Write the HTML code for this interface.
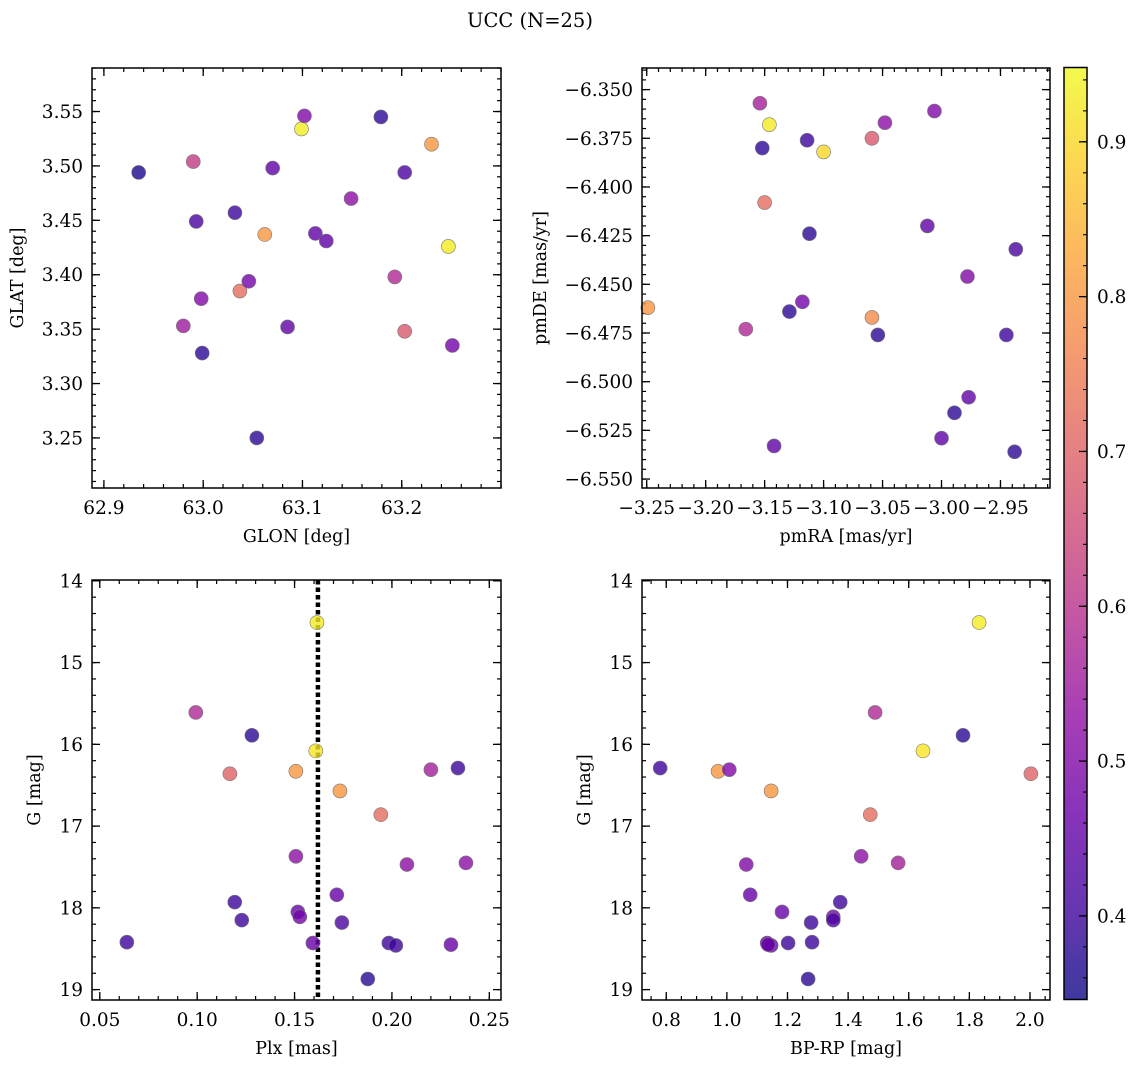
<!DOCTYPE html>
<html><head><meta charset="utf-8">
<style>
html,body{margin:0;padding:0;background:#fff;}
svg{display:block;font-family:"DejaVu Serif","Liberation Serif",serif;}
</style></head>
<body>
<svg id="fig" width="1136" height="1067" viewBox="0 0 1136 1067">
<defs><linearGradient id="cbgrad" x1="0" y1="1" x2="0" y2="0"></linearGradient></defs>
<text x="530" y="27" text-anchor="middle" font-size="19.5">UCC (N=25)</text>
</svg>
<script>
// ---- data ----
const glon = [62.935,62.990,62.993,63.032,62.998,62.980,62.999,63.037,63.046,63.054,63.062,63.070,63.085,63.099,63.102,63.113,63.124,63.149,63.179,63.193,63.203,63.203,63.230,63.247,63.251];
const glat = [3.494,3.504,3.449,3.457,3.378,3.353,3.328,3.385,3.394,3.250,3.437,3.498,3.352,3.534,3.546,3.438,3.431,3.470,3.545,3.398,3.348,3.494,3.520,3.426,3.335];
const probTL = [0.36,0.62,0.42,0.40,0.50,0.55,0.38,0.72,0.48,0.38,0.80,0.45,0.45,0.93,0.50,0.45,0.45,0.52,0.38,0.58,0.68,0.42,0.80,0.93,0.48];

const pmra = [-3.154,-3.146,-3.152,-3.114,-3.100,-3.059,-3.048,-3.006,-3.150,-3.112,-3.012,-2.937,-2.978,-3.249,-3.166,-3.118,-3.129,-3.059,-3.054,-2.945,-2.977,-2.989,-3.000,-3.142,-2.938];
const pmde = [-6.357,-6.368,-6.380,-6.376,-6.382,-6.375,-6.367,-6.361,-6.408,-6.424,-6.420,-6.432,-6.446,-6.462,-6.473,-6.459,-6.464,-6.467,-6.476,-6.476,-6.508,-6.516,-6.529,-6.533,-6.536];
const probTR = [0.56,0.93,0.38,0.40,0.90,0.68,0.52,0.50,0.72,0.38,0.45,0.42,0.50,0.80,0.58,0.48,0.38,0.78,0.38,0.40,0.45,0.38,0.45,0.45,0.38];

const plx = [0.1615,0.0993,0.1281,0.1609,0.1168,0.1507,0.1733,0.2200,0.2339,0.1943,0.1507,0.2077,0.2380,0.1717,0.1193,0.1517,0.1527,0.1229,0.1743,0.0639,0.1594,0.1984,0.2020,0.2303,0.1876];
const gBL = [14.51,15.61,15.89,16.08,16.36,16.33,16.57,16.31,16.29,16.86,17.37,17.47,17.45,17.84,17.93,18.05,18.11,18.15,18.18,18.42,18.43,18.43,18.46,18.45,18.87];
const probBL = [0.93,0.58,0.38,0.92,0.70,0.80,0.80,0.56,0.40,0.72,0.52,0.52,0.52,0.46,0.40,0.46,0.48,0.40,0.42,0.40,0.46,0.40,0.40,0.46,0.38];
const plxMedian = [0.162];

const bprp = [1.832,1.489,1.779,1.647,2.003,0.971,1.008,1.146,0.780,1.473,1.064,1.443,1.565,1.077,1.374,1.182,1.278,1.351,1.351,1.133,1.146,1.202,1.281,1.268,1.136];
const gBR = [14.51,15.61,15.89,16.08,16.36,16.33,16.31,16.57,16.29,16.86,17.47,17.37,17.45,17.84,17.93,18.05,18.18,18.11,18.15,18.43,18.46,18.43,18.42,18.87,18.45];
const probBR = [0.93,0.58,0.38,0.92,0.70,0.80,0.50,0.80,0.40,0.72,0.50,0.52,0.56,0.46,0.40,0.46,0.40,0.48,0.42,0.46,0.46,0.40,0.40,0.38,0.46];

const cbTicks = [0.4,0.5,0.6,0.7,0.8,0.9];
const cbRange = [0.346,0.948];

// ---- helpers ----
const NS="http://www.w3.org/2000/svg";
const svg=document.getElementById('fig');
function mk(tag,attrs,parent){const e=document.createElementNS(NS,tag);for(const k in attrs)e.setAttribute(k,attrs[k]);(parent||svg).appendChild(e);return e;}
const stops=[[0,[13,8,135]],[0.1,[65,4,157]],[0.2,[106,0,168]],[0.3,[143,13,164]],[0.4,[177,42,144]],[0.5,[204,71,120]],[0.6,[225,100,98]],[0.7,[242,132,75]],[0.8,[252,166,54]],[0.9,[252,206,37]],[1,[240,249,33]]];
function plasma(t){t=Math.max(0,Math.min(1,t));for(let i=1;i<stops.length;i++){if(t<=stops[i][0]){const a=stops[i-1],b=stops[i];const f=(t-a[0])/(b[0]-a[0]);const c=a[1].map((v,j)=>Math.round(v+(b[1][j]-v)*f));return `rgb(${c[0]},${c[1]},${c[2]})`;}}return 'rgb(240,249,33)';}
function cnorm(v){return (v-cbRange[0])/(cbRange[1]-cbRange[0]);}

function panel(cfg){
  const g=mk('g',{});
  
  
  const [L,T,R,B]=cfg.box;
  const sx=v=>L+(v-cfg.xd[0])/(cfg.xd[1]-cfg.xd[0])*(R-L);
  const sy=cfg.yinv? v=>T+(v-cfg.yd[0])/(cfg.yd[1]-cfg.yd[0])*(B-T) : v=>B-(v-cfg.yd[0])/(cfg.yd[1]-cfg.yd[0])*(B-T);
  const eps=1e-9;
  for(let v=Math.ceil(cfg.xd[0]/cfg.xminor-eps)*cfg.xminor; v<=cfg.xd[1]+eps; v+=cfg.xminor){const x=sx(v);
    mk('line',{x1:x,y1:B,x2:x,y2:B-4,stroke:'#000','stroke-width':1.2},g);mk('line',{x1:x,y1:T,x2:x,y2:T+4,stroke:'#000','stroke-width':1.2},g);}
  for(let v=Math.ceil(Math.min(...cfg.yd)/cfg.yminor-eps)*cfg.yminor; v<=Math.max(...cfg.yd)+eps; v+=cfg.yminor){const y=sy(v);
    mk('line',{x1:L,y1:y,x2:L+4,y2:y,stroke:'#000','stroke-width':1.2},g);mk('line',{x1:R,y1:y,x2:R-4,y2:y,stroke:'#000','stroke-width':1.2},g);}
  cfg.xt.forEach(v=>{const x=sx(v);
    mk('line',{x1:x,y1:B,x2:x,y2:B-8,stroke:'#000','stroke-width':1.3},g);mk('line',{x1:x,y1:T,x2:x,y2:T+8,stroke:'#000','stroke-width':1.3},g);
    const t=mk('text',{x:x,y:B+26,'text-anchor':'middle','font-size':18.5},g);t.textContent=cfg.xf(v);
    
    });
  cfg.yt.forEach(v=>{const y=sy(v);
    mk('line',{x1:L,y1:y,x2:L+8,y2:y,stroke:'#000','stroke-width':1.3},g);mk('line',{x1:R,y1:y,x2:R-8,y2:y,stroke:'#000','stroke-width':1.3},g);
    const t=mk('text',{x:L-9,y:y+6.5,'text-anchor':'end','font-size':18.5},g);t.textContent=cfg.yf(v);
    
    });
  if(cfg.vline){cfg.vline.forEach(v=>{const l=mk('line',{x1:sx(v),y1:T,x2:sx(v),y2:B,stroke:'#000','stroke-width':4.5,'stroke-dasharray':'4.5 3'},g);
    
    });}
  cfg.xs.forEach((xv,i)=>{
    const c=mk('circle',{cx:sx(xv),cy:sy(cfg.ys[i]),r:7,fill:plasma(cnorm(cfg.cs[i])),'fill-opacity':0.8,stroke:'#777','stroke-width':0.6},g);
    
    });
  mk('rect',{x:L,y:T,width:R-L,height:B-T,fill:'none',stroke:'#000','stroke-width':1.5},g);
  const xl=mk('text',{x:(L+R)/2,y:B+54,'text-anchor':'middle','font-size':17.5},g);xl.textContent=cfg.xl;
  
  
  const yx=cfg.ylx, yy=(T+B)/2;
  const yl=mk('text',{x:yx,y:yy,'text-anchor':'middle','font-size':17.5,transform:`rotate(-90 ${yx} ${yy})`},g);yl.textContent=cfg.yl;
  
  
}
const f=(d)=>v=>{let s=Math.abs(v).toFixed(d);return (v<-1e-9?'\u2212':'')+s;};

panel({name:'glon-glat-panel',box:[92,68,501,488],xd:[62.888,63.300],yd:[3.204,3.590],
  xt:[62.9,63.0,63.1,63.2],yt:[3.25,3.30,3.35,3.40,3.45,3.50,3.55],xminor:0.02,yminor:0.01,xf:f(1),yf:f(2),
  xs:glon,ys:glat,cs:probTL,xl:'GLON [deg]',yl:'GLAT [deg]',ylx:23});
panel({name:'pm-panel',box:[642,68,1050,488],xd:[-3.254,-2.908],yd:[-6.5546,-6.3389],
  xt:[-3.25,-3.20,-3.15,-3.10,-3.05,-3.00,-2.95],yt:[-6.55,-6.525,-6.5,-6.475,-6.45,-6.425,-6.4,-6.375,-6.35],xminor:0.01,yminor:0.005,xf:f(2),yf:f(3),
  xs:pmra,ys:pmde,cs:probTR,xl:'pmRA [mas/yr]',yl:'pmDE [mas/yr]',ylx:546});
panel({name:'plx-g-panel',box:[92,580,501,1000],xd:[0.046,0.256],yd:[13.99,19.127],yinv:true,
  xt:[0.05,0.10,0.15,0.20,0.25],yt:[14,15,16,17,18,19],xminor:0.01,yminor:0.2,xf:f(2),yf:f(0),
  xs:plx,ys:gBL,cs:probBL,xl:'Plx [mas]',yl:'G [mag]',ylx:40,vline:plxMedian});
panel({name:'cmd-panel',box:[642,580,1050,1000],xd:[0.720,2.066],yd:[13.99,19.127],yinv:true,
  xt:[0.8,1.0,1.2,1.4,1.6,1.8,2.0],yt:[14,15,16,17,18,19],xminor:0.05,yminor:0.2,xf:f(1),yf:f(0),
  xs:bprp,ys:gBR,cs:probBR,xl:'BP-RP [mag]',yl:'G [mag]',ylx:590});

// ---- colorbar ----
const grad=document.getElementById('cbgrad');
for(let i=0;i<=20;i++){const t=i/20;mk('stop',{offset:t,'stop-color':plasma(t),'stop-opacity':0.8},grad);}
const cb=mk('g',{});


const cT=67.5,cB=999.5,cL=1064,cR=1087;
mk('rect',{x:cL,y:cT,width:cR-cL,height:cB-cT,fill:'url(#cbgrad)'},cb);
const cy=v=>cB-(v-cbRange[0])/(cbRange[1]-cbRange[0])*(cB-cT);
for(let v=0.36;v<=0.95;v+=0.02){mk('line',{x1:cR,y1:cy(v),x2:cR-4,y2:cy(v),stroke:'#000','stroke-width':1.1},cb);}
cbTicks.forEach(v=>{mk('line',{x1:cR,y1:cy(v),x2:cR-8,y2:cy(v),stroke:'#000','stroke-width':1.3},cb);
  const t=mk('text',{x:cR+10,y:cy(v)+6.5,'font-size':18.5},cb);t.textContent=v.toFixed(1);
  
  });
mk('rect',{x:cL,y:cT,width:cR-cL,height:cB-cT,fill:'none',stroke:'#000','stroke-width':1.5},cb);
</script>
</body></html>
